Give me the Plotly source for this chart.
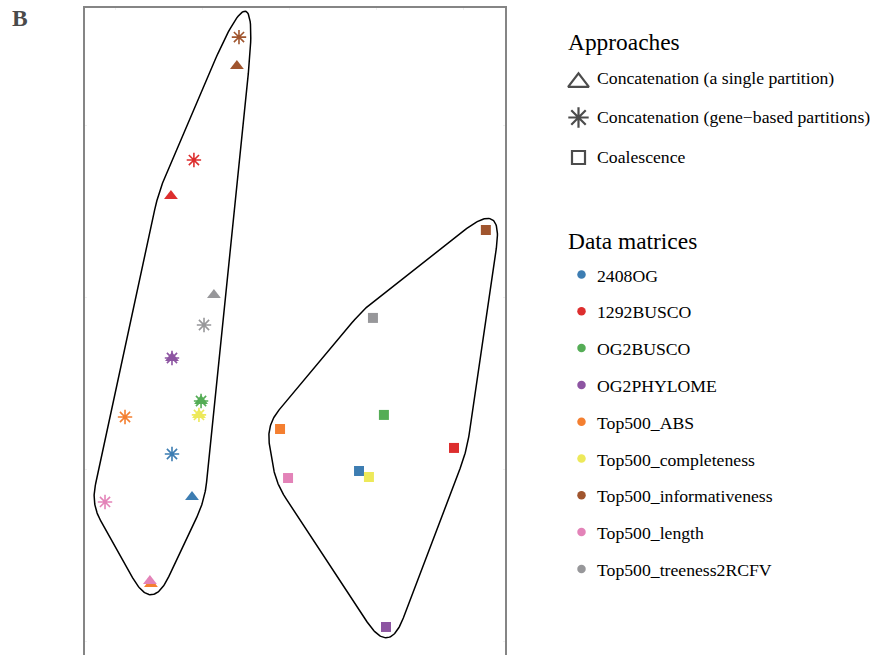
import numpy as np
import plotly.graph_objects as go

W, H = 873, 655

# ---- data -------------------------------------------------------------
datasets = ["2408OG", "1292BUSCO", "OG2BUSCO", "OG2PHYLOME", "Top500_ABS",
            "Top500_completeness", "Top500_informativeness", "Top500_length",
            "Top500_treeness2RCFV"]
colors = ["#3D7DB2", "#DD2E2E", "#55AD56", "#8D55A2", "#F47F30",
          "#EDE95A", "#A0552E", "#E383B8", "#97979A"]

approaches = ["Concatenation (a single partition)",
              "Concatenation (gene\u2212based partitions)",
              "Coalescence"]

# ordination coordinates, one value per data matrix (same order as datasets)
single_x = [-0.563, -0.684, -0.511, -0.678, -0.799, -0.523, -0.305, -0.805, -0.437]
single_y = [-1.157, 0.593, -0.599, -0.349, -1.663, -0.680, 1.349, -1.645, 0.017]

gene_x = [-0.678, -0.552, -0.511, -0.678, -0.948, -0.523, -0.293, -1.063, -0.494]
gene_y = [-0.907, 0.802, -0.599, -0.349, -0.692, -0.680, 1.517, -1.186, -0.157]

coal_x = [0.397, 0.943, 0.540, 0.552, -0.057, 0.454, 1.126, -0.011, 0.477]
coal_y = [-1.006, -0.872, -0.680, -1.913, -0.762, -1.041, 0.395, -1.047, -0.116]

# ---- layout geometry ---------------------------------------------------
x_range = [-1.178, 1.236]
y_range = [-2.076, 1.689]
x_dom = [85 / W, 505 / W]
y_dom = [0.0, 1 - 7.5 / H]

plot_l, plot_w = x_dom[0] * W, (x_dom[1] - x_dom[0]) * W
plot_b, plot_h = H, (y_dom[1] - y_dom[0]) * H


def to_px(x, y):
    x = np.asarray(x, float)
    y = np.asarray(y, float)
    px = plot_l + (x - x_range[0]) / (x_range[1] - x_range[0]) * plot_w
    py = plot_b - (y - y_range[0]) / (y_range[1] - y_range[0]) * plot_h
    return px, py


def from_px(px, py):
    x = x_range[0] + (px - plot_l) / plot_w * (x_range[1] - x_range[0])
    y = y_range[0] + (plot_b - py) / plot_h * (y_range[1] - y_range[0])
    return x, y


def convex_hull(pts):
    pts = sorted(set(map(tuple, pts)))

    def cross(o, a, b):
        return (a[0] - o[0]) * (b[1] - o[1]) - (a[1] - o[1]) * (b[0] - o[0])

    lower, upper = [], []
    for p in pts:
        while len(lower) >= 2 and cross(lower[-2], lower[-1], p) <= 0:
            lower.pop()
        lower.append(p)
    for p in reversed(pts):
        while len(upper) >= 2 and cross(upper[-2], upper[-1], p) <= 0:
            upper.pop()
        upper.append(p)
    return np.array(lower[:-1] + upper[:-1])


def drop_flat_vertices(poly, min_turn_deg=4.0):
    keep = list(poly)
    changed = True
    while changed and len(keep) > 3:
        changed = False
        for i in range(len(keep)):
            a, b, c = keep[i - 1], keep[i], keep[(i + 1) % len(keep)]
            u, v = b - a, c - b
            ang = np.degrees(np.arctan2(u[0] * v[1] - u[1] * v[0], u @ v))
            if abs(ang) < min_turn_deg:
                keep.pop(i)
                changed = True
                break
    return np.array(keep)


def hull_outline(xs, ys, expand=13.0, cut_k=1.4, cut_min=18.0, n_seg=40):
    """Convex hull, mitre-expanded by `expand` px, corners smoothed by
    quadratic Bezier curves whose cut length follows the mitre length."""
    px, py = to_px(xs, ys)
    pts = np.column_stack([px, -py])            # y up -> CCW hull
    hull = drop_flat_vertices(convex_hull(pts))
    n = len(hull)
    normals = []
    for i in range(n):
        d = hull[(i + 1) % n] - hull[i]
        normals.append(np.array([d[1], -d[0]]) / np.hypot(*d))
    off, mit = [], []
    for i in range(n):
        n1, n2 = normals[i - 1], normals[i]
        shift = expand * (n1 + n2) / (1 + n1 @ n2)
        off.append(hull[i] + shift)
        mit.append(np.hypot(*shift))
    off = np.array(off)
    out = []
    t = np.linspace(0, 1, n_seg)[:, None]
    for i in range(n):
        v, prev, nxt = off[i], off[i - 1], off[(i + 1) % n]
        l_in, l_out = np.hypot(*(v - prev)), np.hypot(*(nxt - v))
        c = max(cut_k * mit[i], cut_min)
        c_in, c_out = min(c, 0.5 * l_in), min(c, 0.5 * l_out)
        p0 = v + (prev - v) / l_in * c_in
        p2 = v + (nxt - v) / l_out * c_out
        out.append((1 - t) ** 2 * p0 + 2 * (1 - t) * t * v + t ** 2 * p2)
    out = np.vstack(out + [out[0][:1]])
    return from_px(out[:, 0], -out[:, 1])


fig = go.Figure()

# cluster outlines
left_x, left_y = hull_outline(single_x + gene_x, single_y + gene_y)
right_x, right_y = hull_outline(coal_x, coal_y)
for hx, hy in [(left_x, left_y), (right_x, right_y)]:
    fig.add_trace(go.Scatter(x=hx, y=hy, mode="lines",
                             line=dict(color="black", width=1.5),
                             hoverinfo="skip", showlegend=False))

# points
fig.add_trace(go.Scatter(
    x=single_x, y=single_y, mode="markers", name=approaches[0], text=datasets,
    marker=dict(symbol="triangle-up", size=12, color=colors, line=dict(width=0)),
    showlegend=False))
fig.add_trace(go.Scatter(
    x=gene_x, y=gene_y, mode="markers", name=approaches[1], text=datasets,
    marker=dict(symbol="asterisk-open", size=12, color=colors, line=dict(width=1.6)),
    showlegend=False))
fig.add_trace(go.Scatter(
    x=coal_x, y=coal_y, mode="markers", name=approaches[2], text=datasets,
    marker=dict(symbol="square", size=10, color=colors, line=dict(width=0)),
    showlegend=False))

# ---- legend drawn on an overlay axis in pixel units --------------------
key_x = 578.5
appr_y = [82.3, 117.5, 157.5]
appr_symbols = ["triangle-up-open", "asterisk-open", "square-open"]
appr_sizes = [18, 17, 13]
fig.add_trace(go.Scatter(
    x=[key_x] * 3, y=appr_y, mode="markers", xaxis="x2", yaxis="y2",
    marker=dict(symbol=appr_symbols, size=appr_sizes, color="black",
                line=dict(width=2.2)),
    hoverinfo="skip", showlegend=False))

data_y = [275.5 + 36.8 * i for i in range(len(datasets))]
fig.add_trace(go.Scatter(
    x=[581.5] * len(datasets), y=[v - 1 for v in data_y], mode="markers",
    xaxis="x2", yaxis="y2",
    marker=dict(symbol="circle", size=8.5, color=colors, line=dict(width=0)),
    hoverinfo="skip", showlegend=False))

serif = "Liberation Serif, Times New Roman, serif"
ann = []


def label(text, x, y, size, color="black", bold=False):
    ann.append(dict(text=f"<b>{text}</b>" if bold else text,
                    x=x / W, y=1 - y / H, xref="paper", yref="paper",
                    xanchor="left", yanchor="middle", showarrow=False,
                    borderpad=0, font=dict(family=serif, size=size, color=color)))


label("B", 11.0, 18.3, 23.5, color="#4a4a4a", bold=True)
label("Approaches", 566.5, 42.0, 23.4)
for t, yy in zip(approaches, [78.5, 117.3, 157.3]):
    label(t, 595.5, yy, 17.7)
label("Data matrices", 566.5, 240.5, 23.4)
for t, yy in zip(datasets, data_y):
    label(t, 595.5, yy, 17.7)

axis_common = dict(showgrid=False, zeroline=False, showticklabels=False,
                   ticks="inside", ticklen=2, tickwidth=1, tickcolor="#f0f0f0",
                   showline=True, linecolor="#858585", linewidth=2,
                   fixedrange=True)

fig.update_layout(
    width=W, height=H,
    margin=dict(l=0, r=0, t=0, b=0, pad=0),
    paper_bgcolor="white", plot_bgcolor="rgba(0,0,0,0)",
    xaxis=dict(range=x_range, domain=x_dom, side="top", dtick=0.5, tick0=0,
               mirror=False, **axis_common),
    yaxis=dict(range=y_range, domain=y_dom, dtick=1, tick0=0,
               mirror="ticks", **axis_common),
    xaxis2=dict(range=[0, W], domain=[0, 1], visible=False, anchor="y2",
                fixedrange=True),
    yaxis2=dict(range=[H, 0], domain=[0, 1], visible=False, anchor="x2",
                fixedrange=True),
    annotations=ann,
    showlegend=False,
)

fig.write_html("out.html")
